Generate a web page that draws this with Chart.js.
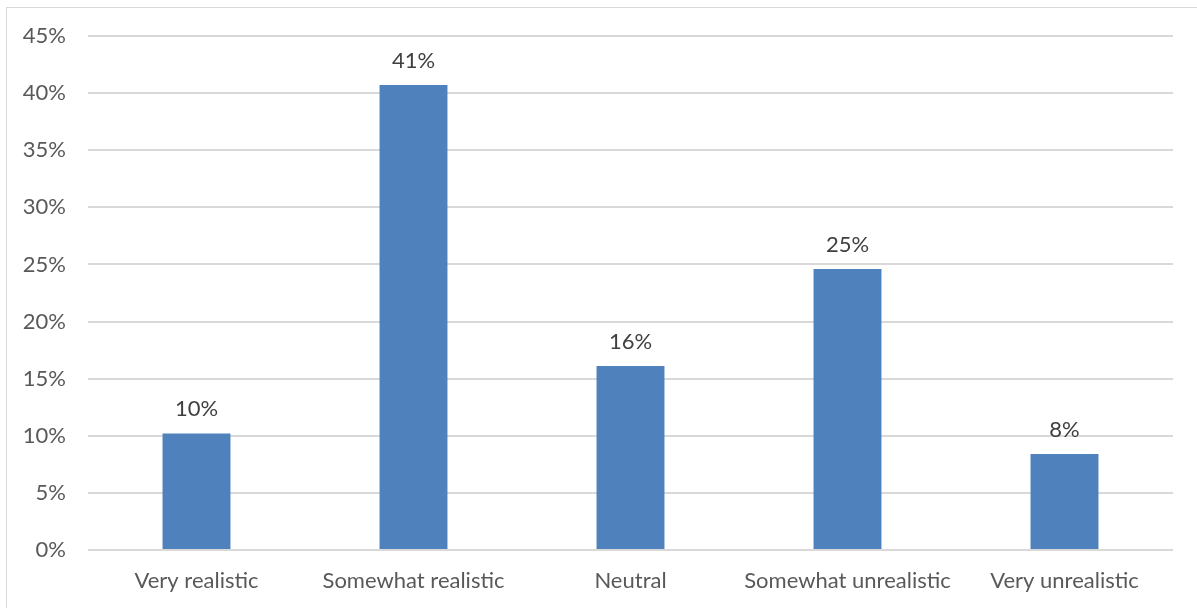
<!DOCTYPE html>
<html>
<head>
<meta charset="utf-8">
<script src="https://cdn.jsdelivr.net/npm/chart.js@4/dist/chart.umd.min.js"></script>
<style>
  html, body { margin: 0; padding: 0; background: #fff; }
  #wrap { position: relative; width: 1197px; height: 608px; overflow: hidden; }
  #frame { position: absolute; left: 6px; top: 7px; width: 1300px; height: 700px;
           border-top: 1px solid #d9d9d9; border-left: 1px solid #d9d9d9; box-sizing: border-box; }
  canvas { position: absolute; left: 0; top: 0; }
</style>
</head>
<body>
<div id="wrap">
  <div id="frame"></div>
  <canvas id="chart" width="1197" height="608"></canvas>
</div>
<script>
// Survey responses: how realistic respondents found it
const categories = ["Very realistic", "Somewhat realistic", "Neutral", "Somewhat unrealistic", "Very unrealistic"];
const shares = [10.2, 40.7, 16.1, 24.6, 8.4];
const tickValues = [0, 5, 10, 15, 20, 25, 30, 35, 40, 45];

const FONT = "Lato, 'Open Sans', sans-serif";

// Percent labels above each bar
const barLabels = {
  id: "barLabels",
  afterDatasetsDraw(chart) {
    const ctx = chart.ctx;
    const meta = chart.getDatasetMeta(0);
    ctx.save();
    ctx.font = "22px " + FONT;
    ctx.fillStyle = "#404040";
    ctx.textAlign = "center";
    ctx.textBaseline = "alphabetic";
    meta.data.forEach((bar, i) => {
      ctx.fillText(Math.round(shares[i]) + "%", bar.x, bar.y - 17);
    });
    ctx.restore();
  }
};

new Chart(document.getElementById("chart"), {
  type: "bar",
  data: {
    labels: categories,
    datasets: [{
      data: shares,
      backgroundColor: "#4f81bd",
      borderWidth: 0,
      categoryPercentage: 1,
      barPercentage: 0.313
    }]
  },
  options: {
    responsive: false,
    animation: false,
    events: [],
    layout: { padding: { top: 36, right: 24, left: 0, bottom: 0 } },
    plugins: { legend: { display: false }, tooltip: { enabled: false } },
    scales: {
      x: {
        grid: { display: false, drawTicks: false },
        border: { display: false },
        ticks: { color: "#595959", font: { family: FONT, size: 22 }, padding: 18, maxRotation: 0 },
        afterFit(scale) { scale.height = 58; }
      },
      y: {
        min: 0,
        max: 45,
        afterBuildTicks(scale) { scale.ticks = tickValues.map(v => ({ value: v })); },
        grid: { color: "#d9d9d9", lineWidth: 2, drawTicks: false },
        border: { display: false },
        ticks: {
          color: "#595959",
          font: { family: FONT, size: 22 },
          padding: 22,
          callback: v => v + "%"
        },
        afterFit(scale) { scale.width = 88; }
      }
    }
  },
  plugins: [barLabels]
});
</script>
</body>
</html>
